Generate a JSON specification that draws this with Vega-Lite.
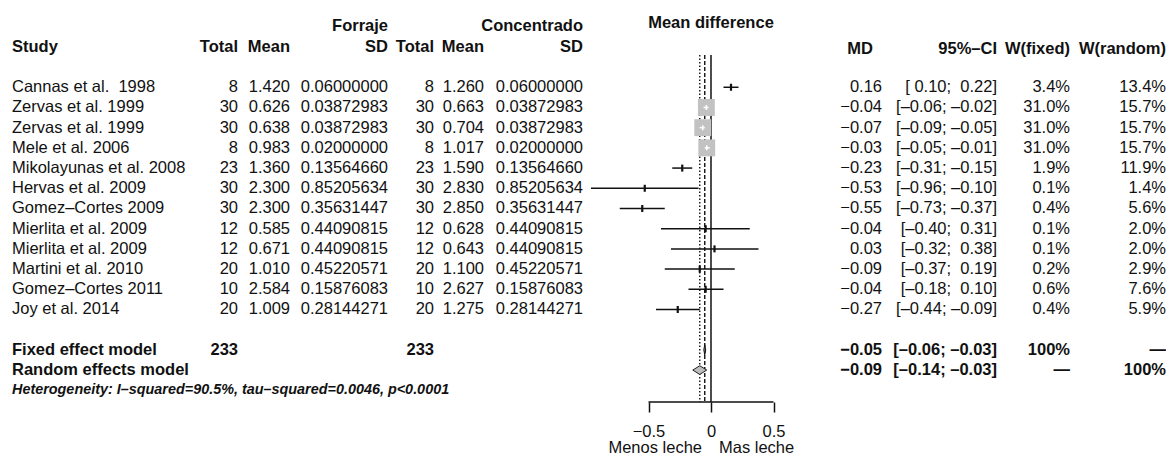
{
  "$schema": "https://vega.github.io/schema/vega-lite/v6.json",
  "background": "white",
  "padding": {"left": 12, "top": 0, "right": 0, "bottom": 0},
  "spacing": 0,
  "bounds": "flush",
  "config": {
    "view": {"stroke": null},
    "text": {"font": "Liberation Sans", "fontSize": 16.5, "color": "#111", "baseline": "middle"},
    "axis": {"labelFont": "Liberation Sans", "titleFont": "Liberation Sans"}
  },
  "datasets": {
    "studies": [
      {"row": 0, "study": "Cannas et al.\u00a0 1998", "n1": 8, "m1": 1.42, "sd1": 0.06, "n2": 8, "m2": 1.26, "sd2": 0.06, "md": 0.16, "lo": 0.10, "hi": 0.22, "ci": "[\u00a00.10;\u00a0 0.22]", "wf": 0.034, "wr": 0.134},
      {"row": 1, "study": "Zervas et al. 1999", "n1": 30, "m1": 0.626, "sd1": 0.03872983, "n2": 30, "m2": 0.663, "sd2": 0.03872983, "md": -0.037, "lo": -0.06, "hi": -0.02, "ci": "[–0.06; –0.02]", "wf": 0.31, "wr": 0.157},
      {"row": 2, "study": "Zervas et al. 1999", "n1": 30, "m1": 0.638, "sd1": 0.03872983, "n2": 30, "m2": 0.704, "sd2": 0.03872983, "md": -0.066, "lo": -0.09, "hi": -0.05, "ci": "[–0.09; –0.05]", "wf": 0.31, "wr": 0.157},
      {"row": 3, "study": "Mele et al. 2006", "n1": 8, "m1": 0.983, "sd1": 0.02, "n2": 8, "m2": 1.017, "sd2": 0.02, "md": -0.034, "lo": -0.05, "hi": -0.01, "ci": "[–0.05; –0.01]", "wf": 0.31, "wr": 0.157},
      {"row": 4, "study": "Mikolayunas et al. 2008", "n1": 23, "m1": 1.36, "sd1": 0.1356466, "n2": 23, "m2": 1.59, "sd2": 0.1356466, "md": -0.23, "lo": -0.31, "hi": -0.15, "ci": "[–0.31; –0.15]", "wf": 0.019, "wr": 0.119},
      {"row": 5, "study": "Hervas et al. 2009", "n1": 30, "m1": 2.3, "sd1": 0.85205634, "n2": 30, "m2": 2.83, "sd2": 0.85205634, "md": -0.53, "lo": -0.96, "hi": -0.10, "ci": "[–0.96; –0.10]", "wf": 0.001, "wr": 0.014},
      {"row": 6, "study": "Gomez–Cortes 2009", "n1": 30, "m1": 2.3, "sd1": 0.35631447, "n2": 30, "m2": 2.85, "sd2": 0.35631447, "md": -0.55, "lo": -0.73, "hi": -0.37, "ci": "[–0.73; –0.37]", "wf": 0.004, "wr": 0.056},
      {"row": 7, "study": "Mierlita et al. 2009", "n1": 12, "m1": 0.585, "sd1": 0.44090815, "n2": 12, "m2": 0.628, "sd2": 0.44090815, "md": -0.043, "lo": -0.40, "hi": 0.31, "ci": "[–0.40;\u00a0 0.31]", "wf": 0.001, "wr": 0.02},
      {"row": 8, "study": "Mierlita et al. 2009", "n1": 12, "m1": 0.671, "sd1": 0.44090815, "n2": 12, "m2": 0.643, "sd2": 0.44090815, "md": 0.028, "lo": -0.32, "hi": 0.38, "ci": "[–0.32;\u00a0 0.38]", "wf": 0.001, "wr": 0.02},
      {"row": 9, "study": "Martini et al. 2010", "n1": 20, "m1": 1.01, "sd1": 0.45220571, "n2": 20, "m2": 1.1, "sd2": 0.45220571, "md": -0.09, "lo": -0.37, "hi": 0.19, "ci": "[–0.37;\u00a0 0.19]", "wf": 0.002, "wr": 0.029},
      {"row": 10, "study": "Gomez–Cortes 2011", "n1": 10, "m1": 2.584, "sd1": 0.15876083, "n2": 10, "m2": 2.627, "sd2": 0.15876083, "md": -0.043, "lo": -0.18, "hi": 0.10, "ci": "[–0.18;\u00a0 0.10]", "wf": 0.006, "wr": 0.076},
      {"row": 11, "study": "Joy et al. 2014", "n1": 20, "m1": 1.009, "sd1": 0.28144271, "n2": 20, "m2": 1.275, "sd2": 0.28144271, "md": -0.266, "lo": -0.44, "hi": -0.09, "ci": "[–0.44; –0.09]", "wf": 0.004, "wr": 0.059}
    ],
    "pooled": [
      {"row": 13, "model": "Fixed effect model", "type": "fixed", "n1": 233, "n2": 233, "md": -0.05, "lo": -0.06, "hi": -0.03, "ci": "[–0.06; –0.03]", "wf": "100%", "wr": "—"},
      {"row": 14, "model": "Random effects model", "type": "random", "md": -0.09, "lo": -0.14, "hi": -0.03, "ci": "[–0.14; –0.03]", "wf": "—", "wr": "100%"}
    ],
    "note": [{}]
  },
  "hconcat": [
    {
      "width": 226, "height": 402,
      "layer": [
        {"data": {"name": "studies"}, "mark": {"type": "text", "align": "left"},
         "encoding": {"x": {"value": 0}, "y": {"field": "row", "type": "quantitative", "scale": {"domain": [-4.32, 15.58], "reverse": true, "nice": false, "zero": false}, "axis": null}, "text": {"field": "study"}}},
        {"data": {"name": "studies"}, "mark": {"type": "text", "align": "right"},
         "encoding": {"x": {"value": "width"}, "y": {"field": "row", "type": "quantitative", "axis": null}, "text": {"field": "n1", "type": "quantitative"}}},
        {"data": {"name": "pooled"}, "mark": {"type": "text", "align": "left", "fontWeight": "bold"},
         "encoding": {"x": {"value": 0}, "y": {"field": "row", "type": "quantitative", "axis": null}, "text": {"field": "model"}}},
        {"data": {"name": "pooled"}, "transform": [{"filter": "isValid(datum.n1)"}], "mark": {"type": "text", "align": "right", "fontWeight": "bold"},
         "encoding": {"x": {"value": "width"}, "y": {"field": "row", "type": "quantitative", "axis": null}, "text": {"field": "n1", "type": "quantitative"}}},
        {"data": {"name": "note"}, "mark": {"type": "text", "align": "left", "fontWeight": "bold", "text": "Study"},
         "encoding": {"x": {"value": 0}, "y": {"datum": -2, "type": "quantitative", "axis": null}}},
        {"data": {"name": "note"}, "mark": {"type": "text", "align": "right", "fontWeight": "bold", "text": "Total"},
         "encoding": {"x": {"value": "width"}, "y": {"datum": -2, "type": "quantitative", "axis": null}}},
        {"data": {"name": "note"}, "mark": {"type": "text", "align": "left", "fontWeight": "bold", "fontStyle": "italic", "fontSize": 14.4, "text": "Heterogeneity: I–squared=90.5%, tau–squared=0.0046, p<0.0001"},
         "encoding": {"x": {"value": 0}, "y": {"datum": 15, "type": "quantitative", "axis": null}}}
      ]
    },
    {
      "width": 52, "height": 402,
      "layer": [
        {"data": {"name": "studies"}, "mark": {"type": "text", "align": "right"},
         "encoding": {"x": {"value": "width"}, "y": {"field": "row", "type": "quantitative", "scale": {"domain": [-4.32, 15.58], "reverse": true, "nice": false, "zero": false}, "axis": null}, "text": {"field": "m1", "type": "quantitative", "format": ".3f"}}},
        {"data": {"name": "note"}, "mark": {"type": "text", "align": "right", "fontWeight": "bold", "text": "Mean"},
         "encoding": {"x": {"value": "width"}, "y": {"datum": -2, "type": "quantitative", "axis": null}}}
      ]
    },
    {
      "width": 98, "height": 402,
      "layer": [
        {"data": {"name": "studies"}, "mark": {"type": "text", "align": "right"},
         "encoding": {"x": {"value": "width"}, "y": {"field": "row", "type": "quantitative", "scale": {"domain": [-4.32, 15.58], "reverse": true, "nice": false, "zero": false}, "axis": null}, "text": {"field": "sd1", "type": "quantitative", "format": ".8f"}}},
        {"data": {"name": "note"}, "mark": {"type": "text", "align": "right", "fontWeight": "bold", "text": "SD"},
         "encoding": {"x": {"value": "width"}, "y": {"datum": -2, "type": "quantitative", "axis": null}}},
        {"data": {"name": "note"}, "mark": {"type": "text", "align": "right", "fontWeight": "bold", "text": "Forraje"},
         "encoding": {"x": {"value": "width"}, "y": {"datum": -3.05, "type": "quantitative", "axis": null}}}
      ]
    },
    {
      "width": 46, "height": 402,
      "layer": [
        {"data": {"name": "studies"}, "mark": {"type": "text", "align": "right"},
         "encoding": {"x": {"value": "width"}, "y": {"field": "row", "type": "quantitative", "scale": {"domain": [-4.32, 15.58], "reverse": true, "nice": false, "zero": false}, "axis": null}, "text": {"field": "n2", "type": "quantitative"}}},
        {"data": {"name": "pooled"}, "transform": [{"filter": "isValid(datum.n2)"}], "mark": {"type": "text", "align": "right", "fontWeight": "bold"},
         "encoding": {"x": {"value": "width"}, "y": {"field": "row", "type": "quantitative", "axis": null}, "text": {"field": "n2", "type": "quantitative"}}},
        {"data": {"name": "note"}, "mark": {"type": "text", "align": "right", "fontWeight": "bold", "text": "Total"},
         "encoding": {"x": {"value": "width"}, "y": {"datum": -2, "type": "quantitative", "axis": null}}}
      ]
    },
    {
      "width": 50, "height": 402,
      "layer": [
        {"data": {"name": "studies"}, "mark": {"type": "text", "align": "right"},
         "encoding": {"x": {"value": "width"}, "y": {"field": "row", "type": "quantitative", "scale": {"domain": [-4.32, 15.58], "reverse": true, "nice": false, "zero": false}, "axis": null}, "text": {"field": "m2", "type": "quantitative", "format": ".3f"}}},
        {"data": {"name": "note"}, "mark": {"type": "text", "align": "right", "fontWeight": "bold", "text": "Mean"},
         "encoding": {"x": {"value": "width"}, "y": {"datum": -2, "type": "quantitative", "axis": null}}}
      ]
    },
    {
      "width": 99, "height": 402,
      "layer": [
        {"data": {"name": "studies"}, "mark": {"type": "text", "align": "right"},
         "encoding": {"x": {"value": "width"}, "y": {"field": "row", "type": "quantitative", "scale": {"domain": [-4.32, 15.58], "reverse": true, "nice": false, "zero": false}, "axis": null}, "text": {"field": "sd2", "type": "quantitative", "format": ".8f"}}},
        {"data": {"name": "note"}, "mark": {"type": "text", "align": "right", "fontWeight": "bold", "text": "SD"},
         "encoding": {"x": {"value": "width"}, "y": {"datum": -2, "type": "quantitative", "axis": null}}},
        {"data": {"name": "note"}, "mark": {"type": "text", "align": "right", "fontWeight": "bold", "text": "Concentrado"},
         "encoding": {"x": {"value": "width"}, "y": {"datum": -3.05, "type": "quantitative", "axis": null}}}
      ]
    },
    {
      "width": 255, "height": 402,
      "layer": [
        {"data": {"name": "pooled"}, "transform": [{"filter": "datum.type == 'fixed'"}],
         "mark": {"type": "rule", "color": "#111", "strokeWidth": 1.4, "strokeDash": [4, 2]},
         "encoding": {"x": {"field": "md", "type": "quantitative", "title": null, "scale": {"domain": [-1.024, 1.016], "nice": false, "zero": false},
                            "axis": {"values": [-0.5, 0, 0.5], "labelExpr": "datum.value == 0 ? '0' : format(datum.value, '.1f')", "grid": false, "title": null, "domain": false, "tickColor": "#111", "tickWidth": 1.5, "tickSize": 10, "labelFontSize": 16.5, "labelColor": "#111", "labelPadding": 11, "labelFlush": false, "labelOverlap": false}},
                      "y": {"datum": -1.6, "type": "quantitative", "scale": {"domain": [-4.32, 15.58], "reverse": true, "nice": false, "zero": false}, "axis": null},
                      "y2": {"datum": 15.58}}},
        {"data": {"name": "pooled"}, "transform": [{"filter": "datum.type == 'random'"}],
         "mark": {"type": "rule", "color": "#111", "strokeWidth": 1.4, "strokeDash": [1.5, 2]},
         "encoding": {"x": {"field": "md", "type": "quantitative", "title": null},
                      "y": {"datum": -1.6, "type": "quantitative", "axis": null},
                      "y2": {"datum": 15.58}}},
        {"data": {"name": "note"}, "mark": {"type": "rule", "color": "#111", "strokeWidth": 1.5},
         "encoding": {"x": {"datum": 0, "type": "quantitative", "title": null},
                      "y": {"datum": -1.6, "type": "quantitative", "axis": null},
                      "y2": {"datum": 15.58}}},
        {"data": {"name": "note"}, "mark": {"type": "rule", "color": "#111", "strokeWidth": 1.5},
         "encoding": {"x": {"datum": -0.5, "type": "quantitative", "title": null}, "x2": {"datum": 0.5},
                      "y": {"datum": 15.58, "type": "quantitative", "axis": null}}},
        {"data": {"name": "studies"}, "mark": {"type": "rule", "color": "#111", "strokeWidth": 1.5},
         "encoding": {"x": {"field": "lo", "type": "quantitative", "title": null}, "x2": {"field": "hi"},
                      "y": {"field": "row", "type": "quantitative", "axis": null}}},
        {"data": {"name": "studies"}, "mark": {"type": "tick", "orient": "vertical", "color": "#111", "size": 7, "thickness": 2.2, "opacity": 1},
         "encoding": {"x": {"field": "md", "type": "quantitative", "title": null},
                      "y": {"field": "row", "type": "quantitative", "axis": null}}},
        {"data": {"name": "studies"}, "transform": [{"filter": "datum.wf > 0.1"}],
         "mark": {"type": "square", "color": "#c2c2c2", "opacity": 1, "filled": true},
         "encoding": {"x": {"field": "md", "type": "quantitative", "title": null},
                      "y": {"field": "row", "type": "quantitative", "axis": null},
                      "size": {"field": "wf", "type": "quantitative", "scale": {"domain": [0, 0.31], "range": [0, 285]}, "legend": null}}},
        {"data": {"name": "studies"}, "transform": [{"filter": "datum.wf > 0.1"}],
         "mark": {"type": "rule", "color": "white", "strokeWidth": 1.5},
         "encoding": {"x": {"field": "lo", "type": "quantitative", "title": null}, "x2": {"field": "hi"},
                      "y": {"field": "row", "type": "quantitative", "axis": null}}},
        {"data": {"name": "studies"}, "transform": [{"filter": "datum.wf > 0.1"}],
         "mark": {"type": "tick", "orient": "vertical", "color": "white", "size": 5, "thickness": 1.5, "opacity": 1},
         "encoding": {"x": {"field": "md", "type": "quantitative", "title": null},
                      "y": {"field": "row", "type": "quantitative", "axis": null}}},
        {"data": {"name": "pooled"}, "transform": [{"filter": "datum.type == 'fixed'"}],
         "mark": {"type": "point", "shape": "M-0.19,0L0,-1L0.19,0L0,1Z", "size": 100, "filled": true, "fill": "#888", "stroke": "#111", "strokeWidth": 1, "opacity": 1},
         "encoding": {"x": {"field": "md", "type": "quantitative", "title": null},
                      "y": {"field": "row", "type": "quantitative", "axis": null}}},
        {"data": {"name": "pooled"}, "transform": [{"filter": "datum.type == 'random'"}],
         "mark": {"type": "point", "shape": "M-1,0L0,-0.62L1,0L0,0.62Z", "size": 196, "filled": true, "fill": "#bdbdbd", "stroke": "#222", "strokeWidth": 1, "opacity": 1},
         "encoding": {"x": {"field": "md", "type": "quantitative", "title": null},
                      "y": {"field": "row", "type": "quantitative", "axis": null}}},
        {"data": {"name": "note"}, "mark": {"type": "text", "align": "center", "fontWeight": "bold", "text": "Mean difference"},
         "encoding": {"x": {"datum": 0, "type": "quantitative", "title": null}, "y": {"datum": -3.2, "type": "quantitative", "axis": null}}},
        {"data": {"name": "note"}, "mark": {"type": "text", "align": "right", "dx": -9, "text": "Menos leche"},
         "encoding": {"x": {"datum": 0, "type": "quantitative", "title": null}, "y": {"datum": 17.88, "type": "quantitative", "axis": null}}},
        {"data": {"name": "note"}, "mark": {"type": "text", "align": "left", "dx": 8, "text": "Mas leche"},
         "encoding": {"x": {"datum": 0, "type": "quantitative", "title": null}, "y": {"datum": 17.88, "type": "quantitative", "axis": null}}}
      ]
    },
    {
      "width": 44, "height": 402,
      "layer": [
        {"data": {"name": "studies"}, "mark": {"type": "text", "align": "right"},
         "encoding": {"x": {"value": "width"}, "y": {"field": "row", "type": "quantitative", "scale": {"domain": [-4.32, 15.58], "reverse": true, "nice": false, "zero": false}, "axis": null}, "text": {"field": "md", "type": "quantitative", "format": ".2f"}}},
        {"data": {"name": "pooled"}, "mark": {"type": "text", "align": "right", "fontWeight": "bold"},
         "encoding": {"x": {"value": "width"}, "y": {"field": "row", "type": "quantitative", "axis": null}, "text": {"field": "md", "type": "quantitative", "format": ".2f"}}},
        {"data": {"name": "note"}, "mark": {"type": "text", "align": "right", "fontWeight": "bold", "dx": -9, "text": "MD"},
         "encoding": {"x": {"value": "width"}, "y": {"datum": -1.9, "type": "quantitative", "axis": null}}}
      ]
    },
    {
      "width": 115, "height": 402,
      "layer": [
        {"data": {"name": "studies"}, "mark": {"type": "text", "align": "right"},
         "encoding": {"x": {"value": "width"}, "y": {"field": "row", "type": "quantitative", "scale": {"domain": [-4.32, 15.58], "reverse": true, "nice": false, "zero": false}, "axis": null}, "text": {"field": "ci"}}},
        {"data": {"name": "pooled"}, "mark": {"type": "text", "align": "right", "fontWeight": "bold"},
         "encoding": {"x": {"value": "width"}, "y": {"field": "row", "type": "quantitative", "axis": null}, "text": {"field": "ci"}}},
        {"data": {"name": "note"}, "mark": {"type": "text", "align": "right", "fontWeight": "bold", "text": "95%–CI"},
         "encoding": {"x": {"value": "width"}, "y": {"datum": -1.9, "type": "quantitative", "axis": null}}}
      ]
    },
    {
      "width": 73, "height": 402,
      "layer": [
        {"data": {"name": "studies"}, "mark": {"type": "text", "align": "right"},
         "encoding": {"x": {"value": "width"}, "y": {"field": "row", "type": "quantitative", "scale": {"domain": [-4.32, 15.58], "reverse": true, "nice": false, "zero": false}, "axis": null}, "text": {"field": "wf", "type": "quantitative", "format": ".1%"}}},
        {"data": {"name": "pooled"}, "mark": {"type": "text", "align": "right", "fontWeight": "bold"},
         "encoding": {"x": {"value": "width"}, "y": {"field": "row", "type": "quantitative", "axis": null}, "text": {"field": "wf"}}},
        {"data": {"name": "note"}, "mark": {"type": "text", "align": "right", "fontWeight": "bold", "text": "W(fixed)"},
         "encoding": {"x": {"value": "width"}, "y": {"datum": -1.9, "type": "quantitative", "axis": null}}}
      ]
    },
    {
      "width": 96, "height": 402,
      "layer": [
        {"data": {"name": "studies"}, "mark": {"type": "text", "align": "right"},
         "encoding": {"x": {"value": "width"}, "y": {"field": "row", "type": "quantitative", "scale": {"domain": [-4.32, 15.58], "reverse": true, "nice": false, "zero": false}, "axis": null}, "text": {"field": "wr", "type": "quantitative", "format": ".1%"}}},
        {"data": {"name": "pooled"}, "mark": {"type": "text", "align": "right", "fontWeight": "bold"},
         "encoding": {"x": {"value": "width"}, "y": {"field": "row", "type": "quantitative", "axis": null}, "text": {"field": "wr"}}},
        {"data": {"name": "note"}, "mark": {"type": "text", "align": "right", "fontWeight": "bold", "text": "W(random)"},
         "encoding": {"x": {"value": "width"}, "y": {"datum": -1.9, "type": "quantitative", "axis": null}}}
      ]
    }
  ]
}
